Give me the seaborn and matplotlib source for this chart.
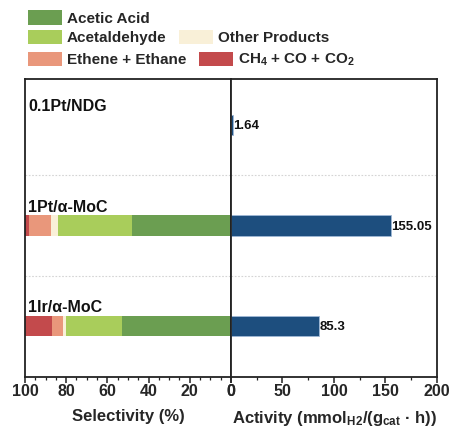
import matplotlib
matplotlib.use("Agg")
import matplotlib.pyplot as plt
import seaborn as sns
import pandas as pd
import numpy as np
from matplotlib.patches import Patch
from matplotlib.ticker import MultipleLocator

# ---------------- data ----------------
catalysts = ["0.1Pt/NDG", "1Pt/α-MoC", "1Ir/α-MoC"]
acetic_acid = [0.0, 48.2, 53.1]
acetaldehyde = [0.0, 35.6, 27.0]
other_products = [0.0, 3.7, 1.3]
ethene_ethane = [0.0, 10.5, 5.3]
ch4_co_co2 = [0.0, 2.0, 13.3]
activity = [1.64, 155.05, 85.3]
activity_labels = ["1.64", "155.05", "85.3"]

series_names = ["Acetic Acid", "Acetaldehyde", "Other Products",
                "Ethene + Ethane", "CH$_4$ + CO + CO$_2$"]
series_values = [acetic_acid, acetaldehyde, other_products, ethene_ethane, ch4_co_co2]
series_colors = ["#6b9e51", "#a9cd5b", "#f9f0d8", "#e9977b", "#c34a4c"]
activity_color = "#1d4e7e"

# ---------------- style ----------------
sns.set_theme(style="white")
plt.rcParams["font.family"] = ["Liberation Sans", "DejaVu Sans"]
plt.rcParams["font.weight"] = "bold"
plt.rcParams["mathtext.fontset"] = "custom"
plt.rcParams["mathtext.rm"] = "Liberation Sans:bold"
plt.rcParams["mathtext.bf"] = "Liberation Sans:bold"
plt.rcParams["mathtext.it"] = "Liberation Sans:bold"
plt.rcParams["mathtext.default"] = "regular"

W, H = 452, 430
fig = plt.figure(figsize=(W / 100, H / 100), dpi=100)
x0, xm, x1 = 25, 231, 437
ytop, ybot = 79, 377
axL = fig.add_axes([x0 / W, 1 - ybot / H, (xm - x0) / W, (ybot - ytop) / H])
axR = fig.add_axes([xm / W, 1 - ybot / H, (x1 - xm) / W, (ybot - ytop) / H])

# ---------------- stacked selectivity (left) ----------------
cum = np.cumsum(np.array(series_values), axis=0)
for i in range(len(series_names) - 1, -1, -1):
    df = pd.DataFrame({"cat": catalysts, "val": cum[i]})
    sns.barplot(data=df, x="val", y="cat", order=catalysts, orient="h",
                color=series_colors[i], saturation=1, width=0.2,
                errorbar=None, linewidth=0, ax=axL)

# ---------------- activity (right) ----------------
dfa = pd.DataFrame({"cat": catalysts, "val": activity})
sns.barplot(data=dfa, x="val", y="cat", order=catalysts, orient="h",
            color=activity_color, saturation=1, width=0.2,
            errorbar=None, linewidth=0.6, edgecolor="#9fb8d6", ax=axR)

for i, (v, lab) in enumerate(zip(activity, activity_labels)):
    axR.text(v + 0.5, i + 0.01, lab, ha="left", va="center",
             fontsize=9.5, fontweight="bold", color="#111111")

# ---------------- axes formatting ----------------
for ax in (axL, axR):
    ax.set_ylim(2.507, -0.458)
    ax.set_yticks([])
    ax.set_ylabel("")
    for s in ax.spines.values():
        s.set_visible(True)
        s.set_color("#222222")
        s.set_linewidth(1.3)
    for yy in (0.5, 1.5):
        ax.axhline(yy, color="#d4d4d4", linestyle=(0, (1.5, 1.5)), linewidth=0.8, zorder=0)
    ax.tick_params(axis="x", which="major", direction="out", length=4, width=1.1,
                   labelsize=11.5, pad=1, bottom=True, color="#222222")
    ax.tick_params(axis="x", which="minor", direction="out", length=2, width=0.9,
                   bottom=True, color="#222222")

axL.set_xlim(100, 0)
axL.xaxis.set_major_locator(MultipleLocator(20))
axL.xaxis.set_minor_locator(MultipleLocator(5))
axR.set_xlim(0, 200)
axR.xaxis.set_major_locator(MultipleLocator(50))
axR.xaxis.set_minor_locator(MultipleLocator(25))
for ax in (axL, axR):
    for t in ax.get_xticklabels():
        t.set_fontweight("bold")

axL.set_xlabel("Selectivity (%)", fontsize=12, fontweight="bold", labelpad=7)
axR.set_xlabel("Activity (mmol$_{H2}$/(g$_{cat}$ · h))", fontsize=12,
               fontweight="bold", labelpad=7)

for i, name in enumerate(catalysts):
    axL.text(98.6, i - 0.135, name, ha="left", va="baseline",
             fontsize=11.5, fontweight="bold", color="#111111")

# ---------------- legend ----------------
handles = [Patch(facecolor=c, edgecolor="none") for c in series_colors]
rows = [([0], 1 - 18 / H), ([1, 2], 1 - 37.5 / H), ([3, 4], 1 - 60 / H)]
for idx, yc in rows:
    fig.legend([handles[k] for k in idx], [series_names[k] for k in idx],
               loc="center left", bbox_to_anchor=(28 / W, yc), ncol=len(idx),
               frameon=False, handlelength=2.2, handleheight=1.05,
               handletextpad=0.33, columnspacing=0.85, borderpad=0,
               borderaxespad=0, prop={"weight": "bold", "size": 11})

fig.savefig("out.png", dpi=100)
